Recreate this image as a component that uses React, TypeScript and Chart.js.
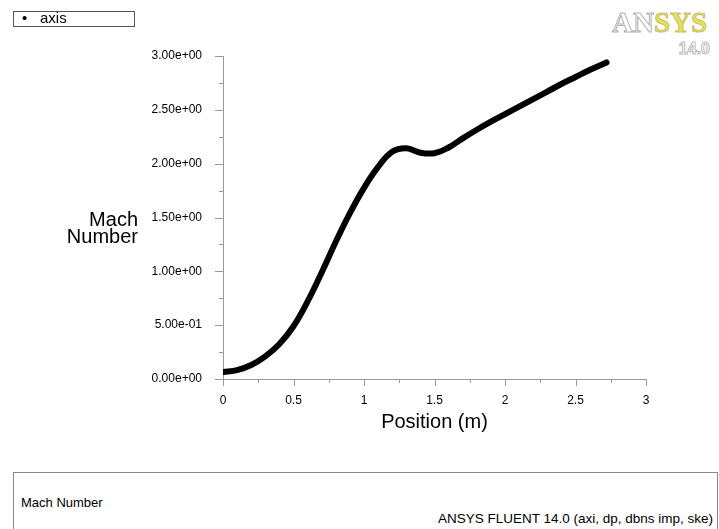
import React, { useEffect, useRef } from "react";
import { Chart, registerables } from "chart.js";

Chart.register(...registerables);

const positions = [0, 0.1, 0.2, 0.3, 0.4, 0.5, 0.6, 0.7, 0.8, 0.9, 1.0, 1.1, 1.2, 1.3, 1.4, 1.5, 1.6, 1.7, 1.8, 1.9, 2.0, 2.1, 2.2, 2.3, 2.4, 2.5, 2.6, 2.72];
const machNumber = [0.065, 0.083, 0.13, 0.21, 0.325, 0.49, 0.72, 0.99, 1.275, 1.54, 1.775, 1.97, 2.11, 2.143, 2.102, 2.097, 2.15, 2.235, 2.315, 2.39, 2.46, 2.53, 2.6, 2.67, 2.74, 2.805, 2.87, 2.94];
const xTickValues = [0, 0.5, 1, 1.5, 2, 2.5, 3];
const yTickValues = [0, 0.5, 1, 1.5, 2, 2.5, 3];

const FONT = "'Liberation Sans', Arial, sans-serif";
const AXIS_COLOR = "#9a9a9a";

function isMajor(v: number) {
  return Math.abs(v * 2 - Math.round(v * 2)) < 1e-6;
}

function fmtExp(v: number) {
  const s = v.toExponential(2);
  const [m, e] = s.split("e");
  const sign = e.startsWith("-") ? "-" : "+";
  const digits = e.replace(/^[+-]/, "").padStart(2, "0");
  return `${m}e${sign}${digits}`;
}

const tickMarks = {
  id: "tickMarks",
  afterDraw(chart: any) {
    const ctx = chart.ctx;
    const xs = chart.scales.x;
    const ys = chart.scales.y;
    const area = chart.chartArea;
    ctx.save();
    ctx.strokeStyle = AXIS_COLOR;
    ctx.lineWidth = 1;
    ctx.beginPath();
    xs.ticks.forEach((t: any) => {
      const px = Math.round(xs.getPixelForValue(t.value)) + 0.5;
      const len = isMajor(t.value) ? 7 : 4;
      ctx.moveTo(px, area.bottom);
      ctx.lineTo(px, area.bottom + len);
    });
    ys.ticks.forEach((t: any) => {
      const py = Math.round(ys.getPixelForValue(t.value)) + 0.5;
      const len = isMajor(t.value) ? 8 : 4;
      ctx.moveTo(area.left, py);
      ctx.lineTo(area.left - len, py);
    });
    ctx.stroke();
    ctx.restore();
  },
};

export default function App() {
  const ref = useRef<HTMLCanvasElement | null>(null);

  useEffect(() => {
    if (!ref.current) return;
    const chart = new Chart(ref.current, {
      type: "scatter",
      data: {
        datasets: [
          {
            label: "axis",
            data: positions.map((x, i) => ({ x, y: machNumber[i] })),
            showLine: true,
            borderColor: "#000",
            backgroundColor: "#000",
            borderWidth: 6,
            borderCapStyle: "round",
            borderJoinStyle: "round",
            pointRadius: 0,
            tension: 0.4,
          },
        ],
      },
      options: {
        responsive: false,
        animation: false,
        devicePixelRatio: 1,
        layout: { padding: { left: 0, right: 73, top: 56, bottom: 0 } },
        plugins: {
          legend: { display: false },
          tooltip: { enabled: false },
        },
        scales: {
          x: {
            type: "linear",
            min: 0,
            max: 3,
            afterFit: (s: any) => {
              s.height = 91;
            },
            ticks: {
              stepSize: 0.25,
              padding: 6,
              color: "#000",
              font: { family: FONT, size: 12 },
              maxRotation: 0,
              autoSkip: false,
              callback: (v: any) => {
                const n = Number(v);
                return xTickValues.some((t) => Math.abs(t - n) < 1e-6) ? String(n) : "";
              },
            },
            grid: { display: false },
            border: { display: true, color: AXIS_COLOR, width: 1 },
            title: {
              display: true,
              text: "Position (m)",
              color: "#000",
              font: { family: FONT, size: 20 },
              padding: { top: 0, bottom: 36 },
            },
          },
          y: {
            type: "linear",
            min: 0,
            max: 3,
            afterFit: (s: any) => {
              s.width = 223;
            },
            ticks: {
              stepSize: 0.25,
              padding: 13,
              color: "#000",
              font: { family: FONT, size: 12 },
              autoSkip: false,
              callback: (v: any) => {
                const n = Number(v);
                return yTickValues.some((t) => Math.abs(t - n) < 1e-6) ? fmtExp(n) : "";
              },
            },
            grid: { display: false },
            border: { display: true, color: AXIS_COLOR, width: 1 },
          },
        },
      },
      plugins: [tickMarks],
    } as any);
    return () => chart.destroy();
  }, []);

  return (
    <div
      style={{
        position: "absolute",
        left: 0,
        top: 0,
        width: 719,
        height: 529,
        background: "#fff",
        overflow: "hidden",
        fontFamily: FONT,
      }}
    >
      <canvas
        ref={ref}
        width={719}
        height={470}
        style={{ position: "absolute", left: 0, top: 0, width: 719, height: 470 }}
      />
      {/* legend box */}
      <div
        style={{
          position: "absolute",
          left: 13,
          top: 11,
          width: 122,
          height: 16,
          boxSizing: "border-box",
          border: "1px solid #555",
        }}
      />
      <span style={{ position: "absolute", left: 22, top: 10, fontSize: 15, lineHeight: "16px", color: "#000" }}>•</span>
      <span style={{ position: "absolute", left: 40, top: 10, fontSize: 15, lineHeight: "16px", color: "#000" }}>axis</span>
      {/* logo */}
      <span
        style={{
          position: "absolute",
          left: 612,
          top: 8,
          fontFamily: "'Liberation Serif', serif",
          fontWeight: "bold",
          fontSize: 29,
          lineHeight: "29px",
          letterSpacing: 0,
          whiteSpace: "nowrap",
        }}
      >
        <span style={{ color: "#fff", WebkitTextStroke: "1px #b0b0b0" } as any}>AN</span>
        <span style={{ color: "#e9df55", WebkitTextStroke: "1px #c8c070" } as any}>SYS</span>
      </span>
      <span
        style={{
          position: "absolute",
          right: 9,
          top: 41,
          fontWeight: "bold",
          fontSize: 16,
          lineHeight: "16px",
          color: "#fff",
          WebkitTextStroke: "1px #b8b8b8",
        } as any}
      >
        14.0
      </span>
      {/* y axis title */}
      <div
        style={{
          position: "absolute",
          left: 18,
          top: 211,
          width: 120,
          textAlign: "right",
          fontSize: 20,
          lineHeight: "17px",
          color: "#000",
        }}
      >
        Mach
        <br />
        Number
      </div>
      {/* bottom box */}
      <div
        style={{
          position: "absolute",
          left: 13,
          top: 472,
          width: 705,
          height: 70,
          boxSizing: "border-box",
          borderTop: "1px solid #888",
          borderLeft: "1px solid #888",
          borderRight: "1px solid #888",
        }}
      />
      <span style={{ position: "absolute", left: 21, top: 496, fontSize: 13, lineHeight: "13px", color: "#000" }}>
        Mach Number
      </span>
      <span
        style={{
          position: "absolute",
          right: 6,
          top: 512,
          fontSize: 13.5,
          lineHeight: "13.5px",
          color: "#000",
          whiteSpace: "nowrap",
        }}
      >
        ANSYS FLUENT 14.0 (axi, dp, dbns imp, ske)
      </span>
    </div>
  );
}
